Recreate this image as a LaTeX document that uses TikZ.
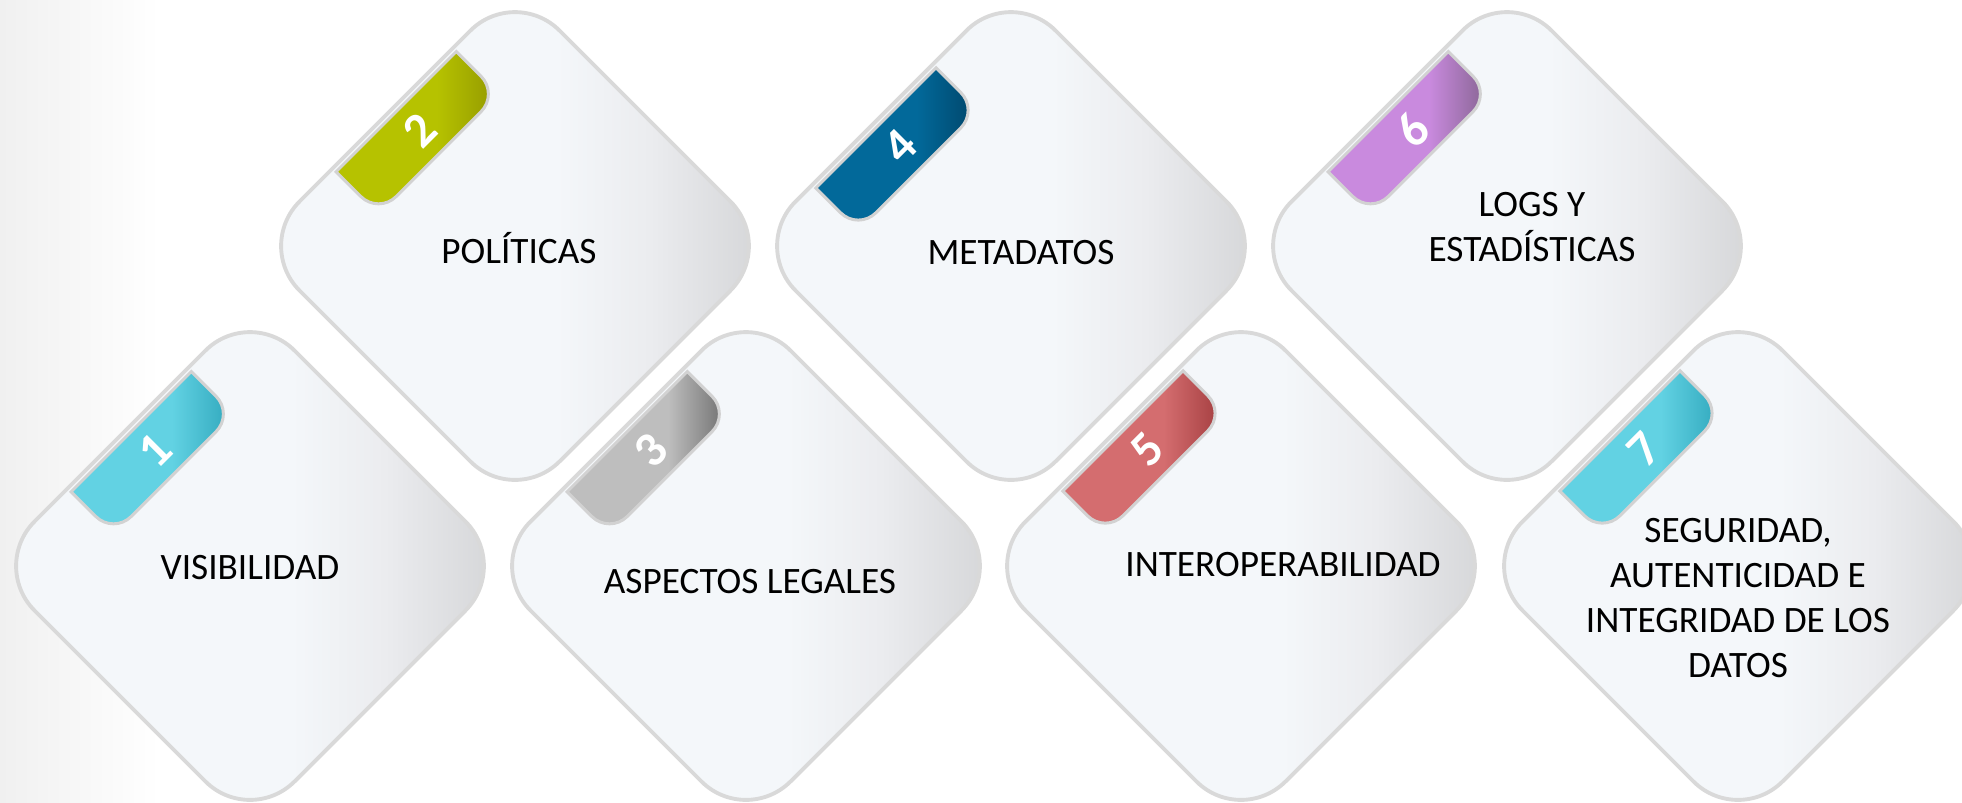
\documentclass[tikz,border=0pt]{standalone}
\usepackage{fontspec}
\setmainfont{Carlito}
\usetikzlibrary{calc}

\definecolor{cardA}{HTML}{F4F7FA}
\definecolor{cardB}{HTML}{EBECEF}
\definecolor{cardC}{HTML}{D2D3D5}
\definecolor{cardline}{HTML}{D9D9D9}
\definecolor{tabline}{HTML}{D2D2D2}
\definecolor{bgleft}{HTML}{F0F0F0}
\definecolor{cyanA}{HTML}{62D2E3}
\definecolor{cyanB}{HTML}{2EA6BB}
\definecolor{oliveA}{HTML}{B6C200}
\definecolor{oliveB}{HTML}{929800}
\definecolor{grayA}{HTML}{BEBEBE}
\definecolor{grayB}{HTML}{6B6B6B}
\definecolor{blueA}{HTML}{02699A}
\definecolor{blueB}{HTML}{004468}
\definecolor{redA}{HTML}{D46D6F}
\definecolor{redB}{HTML}{A03A3C}
\definecolor{violetA}{HTML}{C98ADE}
\definecolor{violetB}{HTML}{83628E}

\pgfdeclarehorizontalshading{cardfill}{100bp}{color(0bp)=(cardA); color(54bp)=(cardA); color(63bp)=(cardB); color(75bp)=(cardC); color(100bp)=(cardC)}
\newcommand\tabshading[3]{\pgfdeclarehorizontalshading{#1}{100bp}{color(0bp)=(#2); color(56bp)=(#2); color(75bp)=(#3); color(100bp)=(#3)}}
\tabshading{tabcyan}{cyanA}{cyanB}
\tabshading{tabolive}{oliveA}{oliveB}
\tabshading{tabgray}{grayA}{grayB}
\tabshading{tabblue}{blueA}{blueB}
\tabshading{tabred}{redA}{redB}
\tabshading{tabviolet}{violetA}{violetB}

\tikzset{
  card/.style={shading=cardfill, draw=cardline, line width=1.1pt, rounded corners=0.63cm},
  cardtab/.style={shading=#1, draw=tabline, line width=0.85pt},
  tabnum/.style={text=white, font=\bfseries\fontsize{14}{14}\selectfont, rotate=45, inner sep=0pt},
  cardtext/.style={font=\fontsize{10.6}{12.8}\selectfont, align=center, inner sep=0pt}
}

\begin{document}
\begin{tikzpicture}[x=0.01cm, y=-0.01cm]
  \useasboundingbox (0,0) rectangle (1962,802);
  \clip (0,0) rectangle (1962,802);
  \shade[left color=bgleft, right color=white] (0,0) rectangle (160,802);

  % the seven cards, tab along the upper left edge
  \foreach \n/\cx/\cy/\sh/\tabcol in {1/250/566/11/tabcyan, 2/515/246/11/tabolive,
      3/746/566/11/tabgray, 4/1011/246/-12/tabblue, 5/1241/566/12/tabred,
      6/1507/246/11/tabviolet, 7/1738/566/12/tabcyan}{
    \coordinate (c\n) at (\cx,\cy);
    \shade[card] ($(c\n)+(0,-260)$) -- ($(c\n)+(260,0)$) -- ($(c\n)+(0,260)$)
      -- ($(c\n)+(-260,0)$) -- cycle;
    \pgfmathsetmacro\ua{\sh-85}
    \pgfmathsetmacro\ub{\sh+85}
    \pgfmathsetmacro\um{\sh+4}
    \shade[cardtab=\tabcol]
      ($(c\n)+({0.7071*(\ua-179)},{0.7071*(-\ua-179)})$)
      [rounded corners=0.25cm] -- ($(c\n)+({0.7071*(\ua-119)},{0.7071*(-\ua-119)})$)
      -- ($(c\n)+({0.7071*(\ub-119)},{0.7071*(-\ub-119)})$)
      [sharp corners] -- ($(c\n)+({0.7071*(\ub-179)},{0.7071*(-\ub-179)})$) -- cycle;
    \node[tabnum] (num\n) at ($(c\n)+({0.7071*(\um-149)},{0.7071*(-\um-149)})$) {\n};
  }

  \node[cardtext, anchor=base] (lbl1) at ($(c1)+(0,13)$) {VISIBILIDAD};
  \node[cardtext, anchor=base] (lbl2) at ($(c2)+(4,17)$) {POLÍTICAS};
  \node[cardtext, anchor=base] (lbl3) at ($(c3)+(4,27)$) {ASPECTOS LEGALES};
  \node[cardtext, anchor=base] (lbl4) at ($(c4)+(10,18)$) {METADATOS};
  \node[cardtext, anchor=base] (lbl5) at ($(c5)+(42,10)$) {INTEROPERABILIDAD};
  \node[cardtext] (lbl6) at ($(c6)+(25,-19)$) {LOGS Y\\ESTADÍSTICAS};
  \node[cardtext] (lbl7) at ($(c7)+(0,32)$) {SEGURIDAD,\\AUTENTICIDAD E\\INTEGRIDAD DE LOS\\DATOS};
\end{tikzpicture}
\end{document}
